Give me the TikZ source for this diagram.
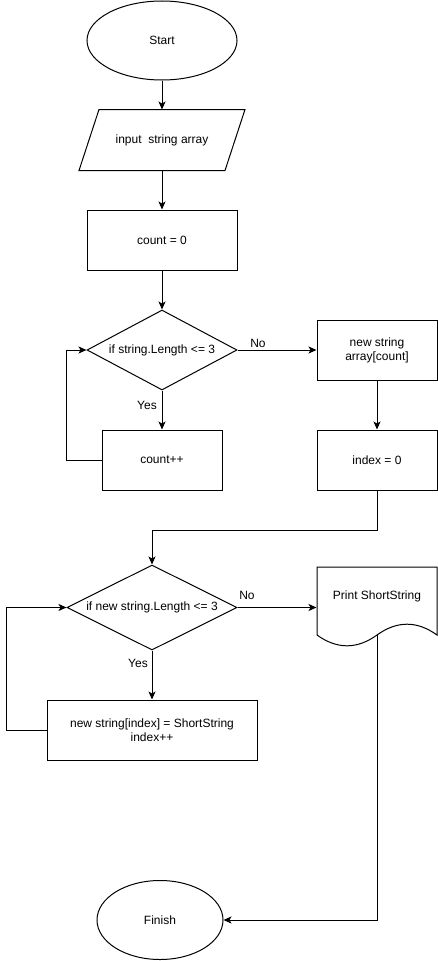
\documentclass[tikz,border=0pt]{standalone}
\usepackage{fontspec}
\setmainfont{Liberation Sans}
\usetikzlibrary{shapes.geometric,arrows.meta}

\begin{document}
\begin{tikzpicture}[x=1pt, y=-1pt, line width=1pt, >={Stealth[length=8pt,width=7pt,inset=2pt]},
  every node/.style={font=\fontsize{12}{14}\selectfont, align=center, inner sep=0pt},
  term/.style={ellipse, draw, minimum width=150pt, minimum height=79pt},
  proc/.style={rectangle, draw, minimum width=120pt, minimum height=60pt},
  cond/.style={diamond, draw, aspect=2, minimum width=150pt, minimum height=80pt},
  docbox/.style={rectangle, minimum width=120pt, minimum height=80pt}]
  \useasboundingbox (0,0) rectangle (438,961);
  \node[term] (start) at (162,40.5) {Start};
  \node[rectangle, minimum width=165pt, minimum height=60pt] (input) at (162,140) {input\ \ string array};
  \draw ([xshift=20pt]input.north west) -- (input.north east) -- ([xshift=-20pt]input.south east) -- (input.south west) -- cycle;
  \node[proc, minimum width=150pt] (count) at (162,240) {count = 0};
  \node[cond] (check) at (162,350) {if string.Length <= 3};
  \node[proc] (newarr) at (377,350) {new string\\array[count]};
  \node[proc] (cntinc) at (162,460) {count++};
  \node[proc] (index) at (377,460) {index = 0};
  \node[cond, minimum width=170pt, minimum height=85pt] (check2) at (152,607.5) {if new string.Length <= 3};
  \node[docbox] (print) at (377,607) {};
  \node (printtext) at (377,596) {Print ShortString};
  \coordinate (printout) at (377,635);
  \node[proc, minimum width=210pt] (assign) at (152,730) {new string[index] = ShortString\\index++};
  \node[term, minimum width=126pt] (finish) at (160,920) {Finish};
  \node (no1) at (258,343) {No};
  \node (yes1) at (147,405) {Yes};
  \node (no2) at (247,595) {No};
  \node (yes2) at (138,663) {Yes};
  \draw (317,635) -- (317,567) -- (437,567) -- (437,635)
    .. controls (417,620.6) and (397,620.6) .. (377,635)
    .. controls (357,649.4) and (337,649.4) .. (317,635);
  \draw[->] (start) -- (input);
  \draw[->] (input) -- (count);
  \draw[->] (count) -- (check);
  \draw[->] (check) -- (newarr);
  \draw[->] (check) -- (cntinc);
  \draw[->] (cntinc.west) -- ++(-35,0) |- (check.west);
  \draw[->] (newarr) -- (index);
  \draw[->] (index.south) -- ++(0,40) -| (check2.north);
  \draw[->] (check2.east) -- (check2.east -| print.west);
  \draw[->] (check2) -- (assign);
  \draw[->] (assign.west) -- ++(-40,0) |- (check2.west);
  \draw[->] (printout) |- (finish.east);
\end{tikzpicture}
\end{document}
